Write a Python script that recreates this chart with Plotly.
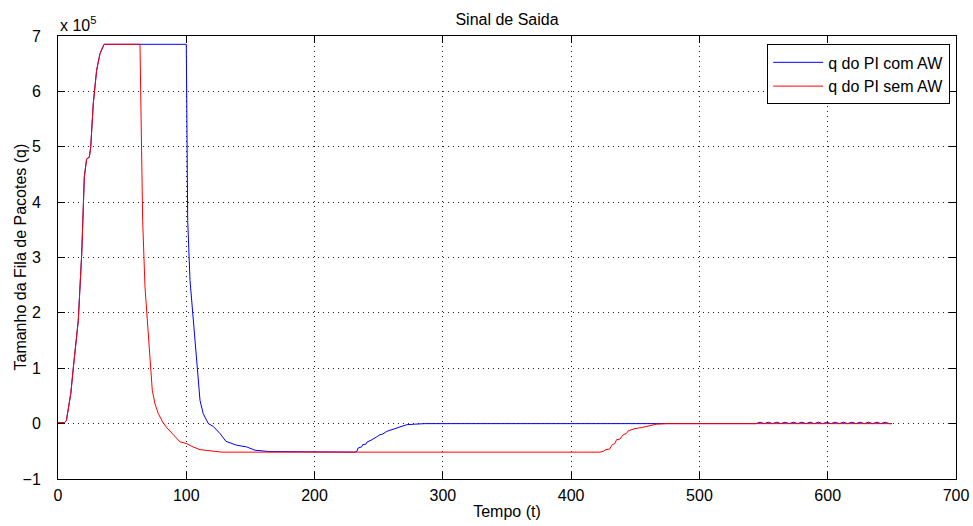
import plotly.graph_objects as go

# Values in units of 1e5 (axis shows "x 10^5")
t_rise = [0, 5, 6.5, 8, 10, 12, 14, 15.8, 17, 18.5, 20.5, 22.3, 24.4, 25.5, 27.5, 30.1, 32.7, 35.9]
q_rise = [0.02, 0.02, 0.05, 0.24, 0.55, 1.02, 1.45, 1.86, 2.4, 3.07, 4.45, 4.78, 4.81, 4.99, 5.78, 6.38, 6.68, 6.85]

t_aw_rest = [100, 100.3, 101.1, 102.9, 105.5, 108.1, 109.4, 110.7, 113.2, 117.2, 121, 126.3, 130.9,
             139.3, 147, 153.5, 165.2, 231.5, 233, 234, 236.7, 237.5, 240, 241, 243.2, 245, 248.4,
             251, 253, 256.2, 259, 262.7, 266, 271.8, 278, 286, 544,
             547.3, 550.5, 553.8, 557, 560.3, 563.5, 566.8, 570, 573.3, 576.5, 579.8, 583, 586.3,
             589.5, 592.8, 596, 599.3, 602.5, 605.8, 609, 612.3, 615.5, 618.8, 622, 625.3, 628.5,
             631.8, 635, 638.3, 641.5, 644.8, 648, 650]
q_aw_rest = [6.85, 5.5, 3.67, 2.59, 1.86, 1.02, 0.75, 0.42, 0.18, 0.0, -0.05, -0.18, -0.32,
             -0.39, -0.42, -0.48, -0.505, -0.515, -0.5, -0.44, -0.42, -0.38, -0.37, -0.33, -0.31, -0.28, -0.24,
             -0.2, -0.19, -0.14, -0.12, -0.08, -0.06, -0.02, -0.01, 0.0, 0.0,
             0.025, 0.0, 0.025, 0.0, 0.025, 0.0, 0.025, 0.0, 0.025, 0.0, 0.025, 0.0, 0.025,
             0.0, 0.025, 0.0, 0.025, 0.0, 0.025, 0.0, 0.025, 0.0, 0.025, 0.0, 0.025, 0.0,
             0.025, 0.0, 0.025, 0.0, 0.025, 0.0, 0.0]

t_saw_rest = [63.9, 64.5, 66, 67.8, 70.4, 72.5, 73.5, 75.6, 78.2, 81.6, 84.7, 89.9, 95.1, 100.3,
              104.2, 110.7, 118.5, 127.6, 422.4, 425, 427, 430, 432, 434, 435.4, 438, 440.6, 443,
              444.5, 447, 449.7, 455, 458.8, 462, 466.6, 474.4, 650]
q_saw_rest = [6.85, 5.6, 3.67, 2.47, 1.56, 0.78, 0.6, 0.36, 0.18, 0.03, -0.07, -0.2, -0.33, -0.36,
              -0.41, -0.47, -0.49, -0.515, -0.515, -0.5, -0.47, -0.46, -0.38, -0.36, -0.29, -0.28, -0.2, -0.18,
              -0.13, -0.11, -0.09, -0.07, -0.05, -0.03, -0.01, 0.0, 0.0]

t_aw = t_rise + t_aw_rest
q_aw = q_rise + q_aw_rest
t_saw = t_rise + t_saw_rest
q_saw = q_rise + q_saw_rest

x_ticks = [0, 100, 200, 300, 400, 500, 600, 700]
y_ticks = [-1, 0, 1, 2, 3, 4, 5, 6, 7]
y_labels = ["\u22121", "0", "1", "2", "3", "4", "5", "6", "7"]

FONT = "Liberation Sans, Arial, Helvetica, sans-serif"
FS = 16

fig = go.Figure()
fig.add_trace(go.Scatter(x=t_aw, y=q_aw, mode="lines", name="q do PI com AW",
                         line=dict(color="#0000ff", width=1)))
fig.add_trace(go.Scatter(x=t_saw, y=q_saw, mode="lines", name="q do PI sem AW",
                         line=dict(color="#ff0000", width=1)))

axis_common = dict(showline=True, linecolor="black", linewidth=1, mirror="ticks",
                   ticks="inside", ticklen=7, tickcolor="black", automargin=False,
                   showgrid=True, gridcolor="#222222", gridwidth=1, griddash="1px,4px",
                   zeroline=False, tickfont=dict(size=FS, color="black", family=FONT))

fig.update_xaxes(range=[0, 700], tickvals=x_ticks, ticklabelstandoff=2, **axis_common,
                 title=dict(text="Tempo (t)", font=dict(size=FS, color="black", family=FONT), standoff=2))
fig.update_yaxes(range=[-1, 7], tickvals=y_ticks, ticktext=y_labels, ticklabelstandoff=13, **axis_common)

plot_w = 973 - 58 - 17

fig.update_layout(
    width=973, height=526,
    margin=dict(l=58, r=17, t=36, b=47),
    plot_bgcolor="white", paper_bgcolor="white",
    font=dict(family=FONT, color="black"),
    title=dict(text="Sinal de Saida", x=0.5, xanchor="center", xref="paper",
               y=1 - 19 / 526, yanchor="middle",
               font=dict(size=FS, color="black", family=FONT)),
    showlegend=True,
    legend=dict(x=0.9935, xanchor="right", y=0.981, yanchor="top",
                bgcolor="white", bordercolor="black", borderwidth=1,
                font=dict(size=FS, color="black", family=FONT),
                tracegroupgap=0, itemwidth=50),
    annotations=[
        dict(text="x 10<sup>5</sup>", xref="paper", yref="paper", x=0, y=1.0,
             xanchor="left", yanchor="bottom", showarrow=False,
             font=dict(size=FS, color="black", family=FONT)),
        dict(text="Tamanho da Fila de Pacotes (q)", xref="paper", yref="paper",
             x=(20 - 58) / plot_w, y=0.5, xanchor="center", yanchor="middle",
             textangle=-90, showarrow=False,
             font=dict(size=FS, color="black", family=FONT)),
    ],
)

fig.write_html("out.html")
